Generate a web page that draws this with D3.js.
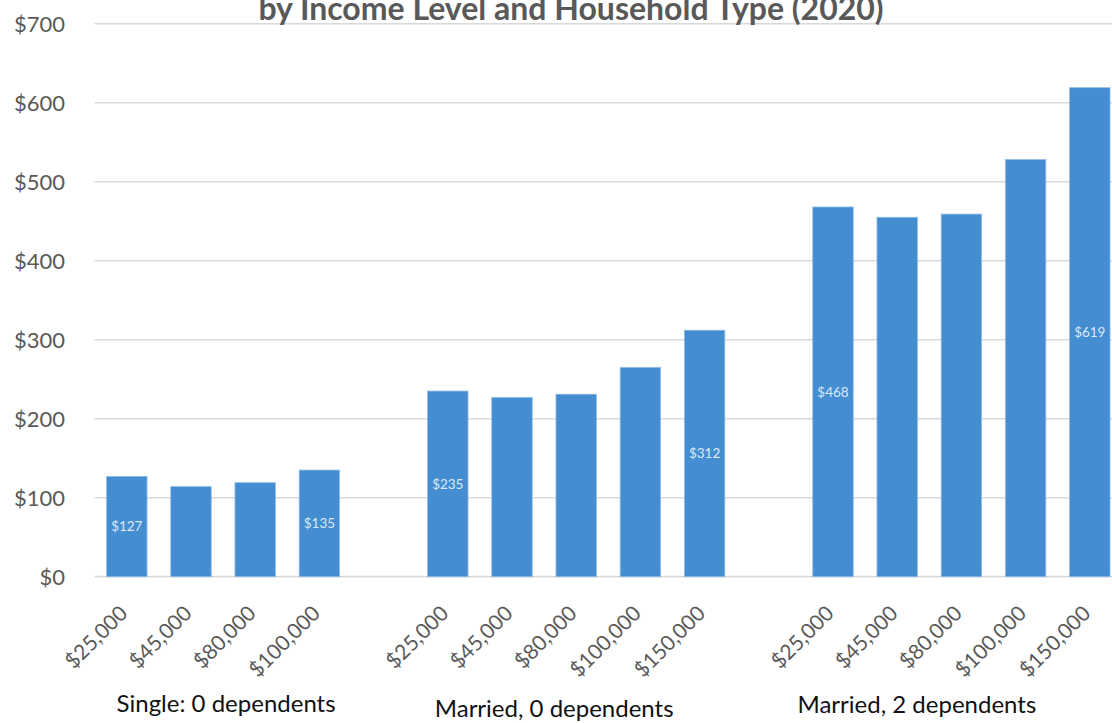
<!DOCTYPE html>
<html>
<head>
<meta charset="utf-8">
<script src="https://cdn.jsdelivr.net/npm/d3@7"></script>
<style>
  html, body { margin: 0; padding: 0; background: #fff; }
  svg { display: block; font-family: Lato, "Open Sans", sans-serif; }
</style>
</head>
<body>
<svg id="chart" width="1112" height="723"></svg>
<script>
// ---- data ----
const titleText = "by Income Level and Household Type (2020)";
const groupNames = ["Single: 0 dependents", "Married, 0 dependents", "Married, 2 dependents"];
const singleIncomes = ["$25,000", "$45,000", "$80,000", "$100,000"];
const marriedIncomes = ["$25,000", "$45,000", "$80,000", "$100,000", "$150,000"];
const singleValues = [127, 114, 119, 135];
const married0Values = [235, 227, 231, 265, 312];
const married2Values = [468, 455, 459, 528, 619];
const yTicks = [0, 100, 200, 300, 400, 500, 600, 700];

// ---- build flat table ----
const groupIncomes = [singleIncomes, marriedIncomes, marriedIncomes];
const groupValues = [singleValues, married0Values, married2Values];
const slots = [];
const bars = [];
groupNames.forEach((g, gi) => {
  if (gi > 0) slots.push("gap" + gi);
  groupIncomes[gi].forEach((inc, i) => {
    const key = gi + "-" + i;
    slots.push(key);
    bars.push({ key, group: gi, income: inc, value: groupValues[gi][i],
                labeled: i === 0 || i === groupIncomes[gi].length - 1 });
  });
});

// ---- layout ----
const svg = d3.select("#chart");
const x0 = 94.7, step = 64.2;
const x = d3.scaleBand().domain(slots)
  .range([x0, x0 + step * slots.length])
  .paddingInner(0.37).paddingOuter(0.185);
const y = d3.scaleLinear().domain([0, 700]).range([576.7, 23.7]);

const textGray = "#595959";

// gridlines
svg.append("g").selectAll("line").data(yTicks).join("line")
  .attr("x1", x0).attr("x2", 1112)
  .attr("y1", d => y(d)).attr("y2", d => y(d))
  .attr("stroke", "#d9d9d9").attr("stroke-width", d => d === 0 ? 1.8 : 1.4);

// y axis labels
const yAxis = d3.axisLeft(y).tickValues(yTicks).tickSize(0).tickPadding(0)
  .tickFormat(d => "$" + d);
svg.append("g").attr("transform", "translate(65,0)").call(yAxis)
  .call(g => g.select(".domain").remove())
  .call(g => g.selectAll("text").attr("fill", textGray)
    .style("font-size", "22px").style("font-family", "Lato, sans-serif")
    .attr("dy", "0.36em"));

// bars
svg.append("g").selectAll("rect").data(bars).join("rect")
  .attr("x", d => x(d.key)).attr("width", x.bandwidth())
  .attr("y", d => y(d.value)).attr("height", d => y(0) - y(d.value))
  .attr("fill", "#448dd0").attr("stroke", "#8fbbe6").attr("stroke-width", 0.8);

// data labels
svg.append("g").selectAll("text").data(bars.filter(d => d.labeled)).join("text")
  .attr("x", d => x(d.key) + x.bandwidth() / 2)
  .attr("y", d => (y(d.value) + y(0)) / 2)
  .attr("dy", "0.36em").attr("text-anchor", "middle")
  .attr("fill", "#dce8f6").style("font-size", "13.5px")
  .text(d => "$" + d.value);

// x tick labels (rotated)
svg.append("g").selectAll("text").data(bars).join("text")
  .attr("transform", d => `translate(${x(d.key) + x.bandwidth() / 2 + 2},${y(0) + 38}) rotate(-45)`)
  .attr("text-anchor", "end").attr("fill", textGray)
  .style("font-size", "21px")
  .text(d => d.income);

// group labels (manually placed text boxes)
const groupOffsets = [3, -22, -44.5];
const groupBaselines = [712, 717, 713];
svg.append("g").selectAll("text").data(groupNames).join("text")
  .attr("x", (d, gi) => {
    const ks = bars.filter(b => b.group === gi);
    const c = (x(ks[0].key) + x(ks[ks.length - 1].key) + x.bandwidth()) / 2;
    return c + groupOffsets[gi];
  })
  .attr("y", (d, gi) => groupBaselines[gi])
  .attr("text-anchor", "middle").attr("fill", "#111")
  .style("font-size", "24px")
  .text(d => d);

// title (cropped at top, as in the reference)
svg.append("text").attr("x", 571).attr("y", 20)
  .attr("text-anchor", "middle").attr("fill", textGray)
  .style("font-size", "32px").style("font-weight", "bold")
  .text(titleText);
</script>
</body>
</html>
